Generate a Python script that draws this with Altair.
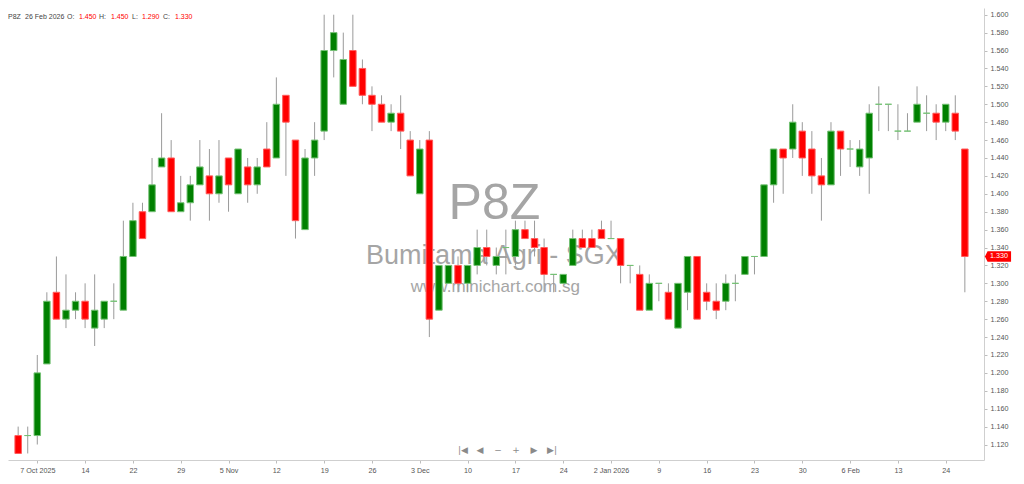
import altair as alt
import pandas as pd

# ---------------- data ----------------
OPEN = [1.13, 1.13, 1.13, 1.21, 1.29, 1.26, 1.27, 1.28, 1.25, 1.26,
        1.28, 1.27, 1.33, 1.38, 1.38, 1.43, 1.44, 1.38, 1.39, 1.41,
        1.42, 1.40, 1.44, 1.40, 1.43, 1.41, 1.45, 1.44, 1.51, 1.46,
        1.36, 1.44, 1.47, 1.56, 1.50, 1.56, 1.54, 1.51, 1.50, 1.48,
        1.49, 1.46, 1.40, 1.46, 1.27, 1.30, 1.32, 1.30, 1.32, 1.34,
        1.32, 1.34, 1.33, 1.36, 1.35, 1.34, 1.31, 1.30, 1.32, 1.35,
        1.35, 1.36, 1.35, 1.35, 1.32, 1.31, 1.27, 1.30, 1.29, 1.25,
        1.29, 1.33, 1.29, 1.28, 1.28, 1.30, 1.31, 1.33, 1.33, 1.41,
        1.45, 1.45, 1.47, 1.45, 1.42, 1.41, 1.47, 1.45, 1.43, 1.44,
        1.50, 1.50, 1.47, 1.47, 1.48, 1.49, 1.49, 1.48, 1.49, 1.45]
HIGH = [1.14, 1.14, 1.22, 1.29, 1.33, 1.31, 1.29, 1.30, 1.31, 1.28,
        1.30, 1.37, 1.39, 1.39, 1.44, 1.49, 1.46, 1.42, 1.42, 1.46,
        1.45, 1.46, 1.44, 1.45, 1.44, 1.44, 1.48, 1.53, 1.51, 1.46,
        1.45, 1.48, 1.60, 1.60, 1.58, 1.60, 1.55, 1.52, 1.51, 1.50,
        1.51, 1.47, 1.46, 1.47, 1.32, 1.32, 1.33, 1.32, 1.36, 1.36,
        1.34, 1.36, 1.37, 1.37, 1.37, 1.35, 1.31, 1.31, 1.36, 1.36,
        1.36, 1.37, 1.37, 1.35, 1.32, 1.32, 1.31, 1.30, 1.30, 1.30,
        1.33, 1.33, 1.30, 1.30, 1.31, 1.31, 1.33, 1.33, 1.41, 1.45,
        1.45, 1.50, 1.48, 1.47, 1.44, 1.48, 1.47, 1.46, 1.46, 1.50,
        1.52, 1.50, 1.50, 1.49, 1.52, 1.51, 1.50, 1.50, 1.51, 1.45]
LOW = [1.11, 1.11, 1.12, 1.21, 1.26, 1.25, 1.26, 1.25, 1.23, 1.25,
       1.26, 1.27, 1.33, 1.35, 1.38, 1.43, 1.38, 1.38, 1.37, 1.41,
       1.37, 1.39, 1.38, 1.40, 1.39, 1.40, 1.43, 1.44, 1.42, 1.35,
       1.36, 1.42, 1.46, 1.53, 1.50, 1.52, 1.50, 1.47, 1.48, 1.47,
       1.45, 1.42, 1.40, 1.24, 1.27, 1.30, 1.29, 1.29, 1.31, 1.32,
       1.31, 1.31, 1.32, 1.35, 1.33, 1.29, 1.29, 1.30, 1.32, 1.34,
       1.34, 1.35, 1.35, 1.30, 1.30, 1.27, 1.27, 1.28, 1.26, 1.25,
       1.27, 1.26, 1.27, 1.26, 1.27, 1.28, 1.31, 1.31, 1.33, 1.39,
       1.40, 1.44, 1.42, 1.40, 1.37, 1.41, 1.42, 1.43, 1.42, 1.40,
       1.47, 1.47, 1.46, 1.47, 1.48, 1.47, 1.46, 1.47, 1.46, 1.29]
CLOSE = [1.11, 1.13, 1.20, 1.28, 1.26, 1.27, 1.28, 1.26, 1.27, 1.28,
         1.28, 1.33, 1.37, 1.35, 1.41, 1.44, 1.38, 1.39, 1.41, 1.43,
         1.40, 1.42, 1.41, 1.45, 1.41, 1.43, 1.43, 1.50, 1.48, 1.37,
         1.44, 1.46, 1.56, 1.58, 1.55, 1.52, 1.51, 1.50, 1.48, 1.49,
         1.47, 1.42, 1.45, 1.26, 1.32, 1.32, 1.30, 1.32, 1.34, 1.33,
         1.33, 1.34, 1.36, 1.35, 1.34, 1.31, 1.31, 1.31, 1.35, 1.34,
         1.34, 1.35, 1.35, 1.32, 1.32, 1.27, 1.30, 1.30, 1.26, 1.30,
         1.33, 1.26, 1.28, 1.27, 1.30, 1.30, 1.33, 1.33, 1.41, 1.45,
         1.44, 1.48, 1.44, 1.42, 1.41, 1.47, 1.45, 1.45, 1.45, 1.49,
         1.50, 1.50, 1.47, 1.47, 1.50, 1.49, 1.48, 1.50, 1.47, 1.33]

X_LABEL_IDX = [2, 7, 12, 17, 22, 27, 32, 37, 42, 47,
               52, 57, 62, 67, 72, 77, 82, 87, 92, 97]
X_LABELS = ["7 Oct 2025", "14", "22", "29", "5 Nov", "12", "19", "26", "3 Dec", "10",
            "17", "24", "2 Jan 2026", "9", "16", "23", "30", "6 Feb", "13", "24"]
Y_TICKS = [1.12, 1.14, 1.16, 1.18, 1.20, 1.22, 1.24, 1.26, 1.28, 1.30,
           1.32, 1.34, 1.36, 1.38, 1.40, 1.42, 1.44, 1.46, 1.48, 1.50,
           1.52, 1.54, 1.56, 1.58, 1.60]

SYMBOL = "P8Z"
LAST_DATE = "26 Feb 2026"
COMPANY = "Bumitama Agri - SGX"
SITE = "www.minichart.com.sg"

# ---------------- layout / style ----------------
W, H = 976, 452
UP, DOWN = "#008000", "#ff0000"
UP_EDGE, DOWN_EDGE = "#74c174", "#ff5c5c"
FONT = "Liberation Sans"

df = pd.DataFrame({"i": list(range(len(OPEN))), "o": OPEN, "h": HIGH, "l": LOW, "c": CLOSE})
df["dir"] = ["up" if c >= o else "down" for o, c in zip(OPEN, CLOSE)]

XS = alt.Scale(domain=[-0.54, 100.48], nice=False, zero=False)
YS = alt.Scale(domain=[1.1027, 1.6075], nice=False, zero=False)

labels_js = "[" + ",".join("'%s'" % s for s in X_LABELS) + "]"
idx_js = "[" + ",".join(str(v) for v in X_LABEL_IDX) + "]"
X_AXIS = alt.Axis(values=X_LABEL_IDX, labelExpr=f"{labels_js}[indexof({idx_js}, datum.value)]",
                  title=None, grid=False, labelFlush=False, labelPadding=3)
Y_AXIS = alt.Axis(orient="right", values=Y_TICKS, format=".3f", title=None, grid=False,
                  labelPadding=3)

def xenc(field="i:Q"):
    return alt.X(field, scale=XS, axis=X_AXIS)

def yenc(field):
    return alt.Y(field, scale=YS, axis=Y_AXIS)

base = alt.Chart(df)

wicks = base.mark_rule(color="#9a9a9a", strokeWidth=1).encode(
    x=xenc(), y=yenc("l:Q"), y2="h:Q",
)

bodies = base.mark_bar(size=6.5, strokeWidth=1).encode(
    x=xenc(), y=yenc("o:Q"), y2="c:Q",
    color=alt.Color("dir:N", scale=alt.Scale(domain=["up", "down"], range=[UP, DOWN]), legend=None),
    stroke=alt.Stroke("dir:N", scale=alt.Scale(domain=["up", "down"], range=[UP_EDGE, DOWN_EDGE]), legend=None),
)

# watermark (positioned in data space)
wm = pd.DataFrame({
    "t": [SYMBOL, COMPANY, SITE],
    "i": [49.8, 49.8, 49.9],
    "p": [1.389, 1.330, 1.296],
    "fs": [50, 27, 17],
})
watermark = alt.Chart(wm).mark_text(color="#9c9c9c", font="Liberation Sans", align="center",
                                    baseline="middle", opacity=0.9).encode(
    x=xenc(), y=yenc("p:Q"), text="t:N",
    size=alt.Size("fs:Q", scale=None, legend=None),
)

# header line
fmt = lambda v: f"{v:.3f}"
header_parts = [
    (SYMBOL, 0, "#444444"), (LAST_DATE, 17, "#444444"),
    ("O:", 59, "#444444"), (fmt(OPEN[-1]), 71, DOWN),
    ("H:", 91, "#444444"), (fmt(HIGH[-1]), 103, DOWN),
    ("L:", 124, "#444444"), (fmt(LOW[-1]), 134, DOWN),
    ("C:", 155, "#444444"), (fmt(CLOSE[-1]), 167, DOWN),
]
one = pd.DataFrame({"k": [0]})
header_layers = [
    alt.Chart(one).mark_text(text=t, align="left", baseline="middle", fontSize=7,
                             font=FONT, color=col).encode(x=alt.value(px), y=alt.value(9))
    for t, px, col in header_parts
]

# navigation buttons
nav_parts = [("|◀", 455), ("◀", 472), ("−", 490), ("+", 508), ("▶", 526), ("▶|", 544)]
nav_layers = [
    alt.Chart(one).mark_text(text=t, align="center", baseline="middle", fontSize=9,
                             font="DejaVu Sans", color="#8a8a8a").encode(x=alt.value(px), y=alt.value(H - 10))
    for t, px in nav_parts
]

# last price tag
tag_df = pd.DataFrame({"p": [CLOSE[-1]], "t": [fmt(CLOSE[-1])]})
tag = alt.Chart(tag_df).mark_point(
    shape="M-1,0 L-0.8,-0.4 L1,-0.4 L1,0.4 L-0.8,0.4 Z",
    size=680, filled=True, color=DOWN, opacity=1, strokeWidth=0,
).encode(x=alt.value(W + 14), y=yenc("p:Q"))
tag_text = alt.Chart(tag_df).mark_text(color="white", fontSize=7.2, font=FONT, align="center",
                                       baseline="middle").encode(
    x=alt.value(W + 15), y=yenc("p:Q"), text="t:N")

chart = alt.layer(
    watermark, wicks, bodies, *header_layers, *nav_layers, tag, tag_text
).properties(
    width=W, height=H, padding=0
).configure_view(
    strokeWidth=0
).configure_axis(
    labelFont=FONT, labelFontSize=7.2, labelColor="#555555",
    tickColor="#bdbdbd", domainColor="#cfcfcf", tickSize=3,
)

chart.save("out.html", embed_options={"renderer": "svg", "actions": False})
